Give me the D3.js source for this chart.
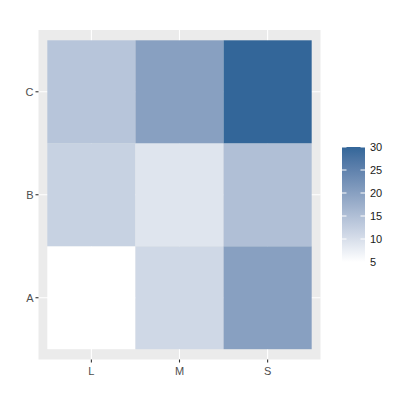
<!doctype html>
<html>
<head>
<meta charset="utf8">
<script src="https://d3js.org/d3.v7.min.js"></script>
<style>
  body { margin: 0; background: #fff; }
  text { font-family: "Liberation Sans", Arial, sans-serif; }
</style>
</head>
<body>
<svg width="400" height="400"></svg>
<script>
    // data
    var xCats = ["L", "M", "S"];
    var yCats = ["A", "B", "C"];
    // values per row (y), columns in xCats order
    var rowA = [5, 11, 20];
    var rowB = [12, 9, 15];
    var rowC = [14, 20, 30];
    var legendTicks = [5, 10, 15, 20, 25, 30];

    var rows = [rowA, rowB, rowC];
    var cells = [];
    yCats.forEach(function(yc, i) {
        xCats.forEach(function(xc, j) {
            cells.push({x: xc, y: yc, v: rows[i][j]});
        });
    });

    var svg = d3.select("svg");
    var panel = {left: 38.5, top: 30, right: 320.5, bottom: 359.5};

    // discrete positions 1..n, ggplot-style 0.6 expansion
    var x = d3.scaleLinear().domain([0.4, 3.6]).range([panel.left, panel.right]);
    var y = d3.scaleLinear().domain([0.4, 3.6]).range([panel.bottom, panel.top]);
    function xi(c) { return x(xCats.indexOf(c) + 1); }
    function yi(c) { return y(yCats.indexOf(c) + 1); }

    var vmin = d3.min(cells, function(d) { return d.v; });
    var vmax = d3.max(cells, function(d) { return d.v; });
    var color = d3.scaleLinear().domain([vmin, vmax])
        .range(["#ffffff", "#336699"]).interpolate(d3.interpolateLab);

    svg.append("rect")
       .attr("x", panel.left).attr("y", panel.top)
       .attr("width", panel.right - panel.left)
       .attr("height", panel.bottom - panel.top)
       .attr("fill", "#ebebeb");

    // grid lines
    xCats.forEach(function(c) {
        svg.append("line").attr("x1", xi(c)).attr("x2", xi(c))
           .attr("y1", panel.top).attr("y2", panel.bottom)
           .attr("stroke", "#fff").attr("stroke-width", 1.1);
    });
    yCats.forEach(function(c) {
        svg.append("line").attr("y1", yi(c)).attr("y2", yi(c))
           .attr("x1", panel.left).attr("x2", panel.right)
           .attr("stroke", "#fff").attr("stroke-width", 1.1);
    });

    var cw = x(1.5) - x(0.5), ch = y(0.5) - y(1.5);
    svg.selectAll(".tile")
       .data(cells)
       .enter().append("rect")
       .attr("class", "tile")
       .attr("x", function(d) { return xi(d.x) - cw / 2; })
       .attr("y", function(d) { return yi(d.y) - ch / 2; })
       .attr("width", cw)
       .attr("height", ch)
       .attr("fill", function(d) { return color(d.v); });

    // axes
    var gx = svg.append("g");
    xCats.forEach(function(c) {
        gx.append("line").attr("x1", xi(c)).attr("x2", xi(c))
          .attr("y1", panel.bottom).attr("y2", panel.bottom + 3)
          .attr("stroke", "#333").attr("stroke-width", 1.1);
        gx.append("text").attr("x", xi(c)).attr("y", panel.bottom + 15)
          .attr("text-anchor", "middle").attr("font-size", "11px")
          .attr("fill", "#4d4d4d").text(c);
    });
    var gy = svg.append("g");
    yCats.forEach(function(c) {
        gy.append("line").attr("x1", panel.left - 3).attr("x2", panel.left)
          .attr("y1", yi(c)).attr("y2", yi(c))
          .attr("stroke", "#333").attr("stroke-width", 1.1);
        gy.append("text").attr("x", panel.left - 5).attr("y", yi(c))
          .attr("dy", "0.35em")
          .attr("text-anchor", "end").attr("font-size", "11px")
          .attr("fill", "#4d4d4d").text(c);
    });

    // legend
    var lg = {x: 342, w: 23, top: 147, bottom: 262};
    var defs = svg.append("defs");
    var grad = defs.append("linearGradient").attr("id", "lg")
        .attr("x1", 0).attr("y1", 1).attr("x2", 0).attr("y2", 0);
    d3.range(0, 1.0001, 0.1).forEach(function(t) {
        grad.append("stop").attr("offset", t)
            .attr("stop-color", color(vmin + t * (vmax - vmin)));
    });
    var ly = d3.scaleLinear().domain([vmin, vmax]).range([lg.bottom, lg.top]);
    svg.append("rect").attr("x", lg.x).attr("y", lg.top)
       .attr("width", lg.w).attr("height", lg.bottom - lg.top)
       .attr("fill", "url(#lg)");
    legendTicks.forEach(function(t) {
        svg.append("line").attr("x1", lg.x).attr("x2", lg.x + 4.5)
           .attr("y1", ly(t)).attr("y2", ly(t)).attr("stroke", "#fff");
        svg.append("line").attr("x1", lg.x + lg.w - 4.5).attr("x2", lg.x + lg.w)
           .attr("y1", ly(t)).attr("y2", ly(t)).attr("stroke", "#fff");
        svg.append("text").attr("x", lg.x + lg.w + 5).attr("y", ly(t))
           .attr("dy", "0.35em").attr("font-size", "11px")
           .attr("fill", "#1a1a1a").text(t);
    });
</script>
</body>
</html>
